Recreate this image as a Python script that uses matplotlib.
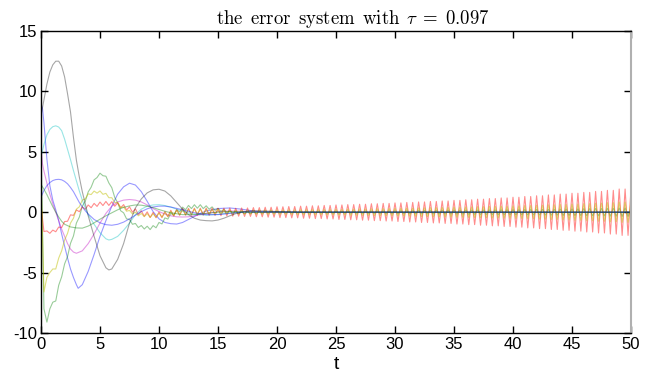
import numpy as np
import matplotlib
matplotlib.use("Agg")
import matplotlib.pyplot as plt

plt.rcParams['font.family'] = ['Liberation Sans', 'DejaVu Sans']
plt.rcParams['mathtext.fontset'] = 'cm'
plt.rcParams['axes.unicode_minus'] = False

# ---------------- data ----------------
# common sample grid for the oscillating series (step 0.25, t = 0..50)
t_fine = np.linspace(0, 50, 201)

# slow part of oscillating series, sampled at t = 0, 0.25, 0.5, ... (rest is 0)
red_slow = [0.5, -1.5, -1.65, -1.65, -1.6, -1.5, -1.35, -1.15, -0.9, -0.62, -0.35, -0.13,
            0.05, 0.18, 0.3, 0.38, 0.45, 0.52, 0.58, 0.63, 0.68, 0.71, 0.73, 0.72,
            0.7, 0.66, 0.6, 0.53, 0.45, 0.36, 0.27, 0.18, 0.08, 0.0, -0.08, -0.14,
            -0.19, -0.22, -0.24, -0.24, -0.23, -0.21, -0.18, -0.14, -0.1, -0.06, -0.03, 0.0,
            0.02, 0.03, 0.04, 0.04, 0.04, 0.04, 0.04, 0.04, 0.04, 0.03, 0.03, 0.03,
            0.02, 0.02, 0.02, 0.01, 0.01]
yellow_slow = [3.0, -6.6, -5.4, -5.0, -4.8, -4.6, -3.9, -3.1, -2.4, -1.65, -1.0, -0.4,
               0.15, 0.55, 0.9, 1.2, 1.42, 1.56, 1.65, 1.68, 1.66, 1.58, 1.46, 1.3,
               1.1, 0.9, 0.7, 0.5, 0.33, 0.18, 0.05, -0.05, -0.12, -0.18, -0.22, -0.25,
               -0.27, -0.28, -0.28, -0.27, -0.25, -0.23, -0.2, -0.16, -0.12, -0.08, -0.05, -0.02,
               0.0, 0.02, 0.04, 0.05, 0.06, 0.06, 0.06, 0.06, 0.06, 0.05, 0.05, 0.04,
               0.04, 0.03, 0.03, 0.02, 0.02]
green1_slow = [5.5, -8.0, -9.1, -8.0, -7.6, -7.2, -6.2, -5.2, -4.4, -3.55, -2.7, -1.85,
               -1.0, -0.3, 0.4, 1.0, 1.6, 2.15, 2.6, 2.95, 3.15, 3.1, 2.9, 2.5,
               1.95, 1.3, 0.7, 0.2, -0.15, -0.45, -0.7, -0.9, -1.05, -1.15, -1.22, -1.27,
               -1.3, -1.3, -1.25, -1.15, -1.0, -0.82, -0.62, -0.42, -0.25, -0.1, 0.05, 0.17,
               0.27, 0.35, 0.41, 0.45, 0.47, 0.48, 0.47, 0.45, 0.41, 0.37, 0.32, 0.27,
               0.22, 0.17, 0.12, 0.08, 0.04, 0.01, -0.02, -0.04, -0.05, -0.05, -0.05, -0.04,
               -0.04, -0.03, -0.02, -0.01]

# ripple amplitude (half peak-to-peak) for each unit of time, t = 0..49
red_amp = [0.1, 0.12, 0.13, 0.14, 0.15, 0.16, 0.17, 0.18, 0.2, 0.22,
           0.24, 0.26, 0.28, 0.29, 0.3, 0.31, 0.33, 0.35, 0.38, 0.41,
           0.45, 0.47, 0.5, 0.53, 0.56, 0.6, 0.63, 0.66, 0.7, 0.73,
           0.77, 0.81, 0.85, 0.89, 0.93, 0.98, 1.03, 1.08, 1.13, 1.18,
           1.24, 1.3, 1.36, 1.43, 1.5, 1.57, 1.64, 1.72, 1.81, 1.92]
yellow_amp = [0.0, 0.1, 0.1, 0.1, 0.1, 0.1, 0.1, 0.1, 0.12, 0.15,
              0.18, 0.2, 0.2, 0.2, 0.18, 0.17, 0.16, 0.16, 0.17, 0.18,
              0.19, 0.2, 0.21, 0.22, 0.23, 0.24, 0.26, 0.27, 0.29, 0.3,
              0.32, 0.34, 0.36, 0.38, 0.4, 0.42, 0.44, 0.46, 0.48, 0.5,
              0.52, 0.55, 0.58, 0.61, 0.64, 0.67, 0.71, 0.75, 0.79, 0.84]
green1_amp = [0.0, 0.15, 0.12, 0.1, 0.08, 0.08, 0.08, 0.1, 0.12, 0.14,
              0.15, 0.15, 0.15, 0.15, 0.12, 0.1, 0.08, 0.07, 0.06, 0.06,
              0.06, 0.06, 0.07, 0.07, 0.08, 0.08, 0.09, 0.1, 0.1, 0.11,
              0.12, 0.13, 0.14, 0.15, 0.16, 0.17, 0.18, 0.19, 0.2, 0.21,
              0.22, 0.23, 0.24, 0.25, 0.27, 0.28, 0.3, 0.31, 0.33, 0.35]

# smooth (non-oscillating) series: knot times and values
gray_t = [0, 0.25, 0.5, 0.75, 1, 1.25, 1.5, 1.75, 2, 2.25, 2.5, 2.75, 3, 3.25, 3.5, 3.75, 4,
          4.5, 5, 5.5, 5.75, 6, 6.5, 7, 7.5, 8, 8.5, 9, 9.5, 10, 10.5, 11, 11.5, 12, 12.5,
          13, 13.5, 14, 14.5, 15, 15.5, 16, 16.5, 17, 17.5, 18, 19, 20, 22, 50]
gray_y = [8.0, 9.3, 10.6, 11.6, 12.2, 12.5, 12.5, 12.1, 11.2, 9.8, 8.3, 6.2, 4.3, 2.9, 1.7, 0.7, -0.3,
          -2.0, -3.6, -4.6, -4.78, -4.7, -3.9, -2.6, -0.9, 0.35, 1.1, 1.6, 1.85, 1.9, 1.75, 1.35, 0.8, 0.25, -0.2,
          -0.5, -0.65, -0.7, -0.72, -0.65, -0.5, -0.3, -0.12, 0.0, 0.08, 0.12, 0.1, 0.05, 0, 0]

cyan_t = [0, 0.25, 0.5, 0.75, 1, 1.25, 1.5, 1.75, 2, 2.25, 2.5, 2.75, 3, 3.25, 3.5, 3.75, 4,
          4.5, 5, 5.5, 5.75, 6, 6.5, 7, 7.5, 8, 8.5, 9, 9.5, 10, 10.5, 11, 11.5, 12, 12.5,
          13, 14, 15, 16, 17, 19, 22, 50]
cyan_y = [4.6, 5.6, 6.4, 6.85, 7.08, 7.15, 7.05, 6.75, 6.05, 5.2, 4.35, 3.45, 2.6, 1.75, 1.0, 0.35, -0.2,
          -1.0, -1.7, -2.2, -2.3, -2.25, -2.0, -1.5, -0.9, -0.2, 0.25, 0.5, 0.6, 0.62, 0.55, 0.42, 0.25, 0.08, -0.06,
          -0.16, -0.25, -0.18, -0.06, 0.02, 0.03, 0, 0]

blue1_t = [0, 0.125, 0.25, 0.5, 0.75, 1, 1.25, 1.5, 1.75, 2, 2.25, 2.5, 2.75, 3, 3.15, 3.5, 4,
           4.5, 5, 5.5, 6, 6.5, 7, 7.5, 8, 8.5, 9, 9.5, 10, 10.5, 11, 11.5, 12, 12.5, 13,
           13.5, 14, 15, 16, 17, 18, 19, 22, 50]
blue1_y = [9.0, 8.6, 7.4, 4.4, 2.2, 1.0, 0.2, -0.7, -1.8, -2.8, -3.8, -4.7, -5.4, -6.0, -6.3, -6.0, -4.9,
           -3.5, -2.0, -0.7, 0.5, 1.5, 2.1, 2.4, 2.25, 1.7, 0.9, 0.05, -0.55, -0.85, -0.95, -0.98, -0.85, -0.6, -0.35,
           -0.1, 0.1, 0.3, 0.35, 0.25, 0.1, 0.0, 0, 0]

pink_t = [0, 0.125, 0.25, 0.5, 0.75, 1, 1.25, 1.5, 1.75, 2, 2.25, 2.5, 2.75, 3, 3.5, 4, 4.5,
          5, 5.5, 6, 6.5, 7, 7.5, 8, 8.5, 9, 9.5, 10, 10.5, 11, 11.5, 12, 12.5, 13, 14,
          15, 16, 17, 18, 19, 22, 50]
pink_y = [5.5, 4.0, 3.4, 2.4, 1.5, 0.7, 0.0, -0.7, -1.4, -2.0, -2.6, -3.05, -3.3, -3.4, -3.2, -2.6, -1.8,
          -0.9, -0.1, 0.5, 0.85, 1.0, 1.05, 1.0, 0.85, 0.6, 0.3, 0.05, -0.15, -0.3, -0.38, -0.4, -0.38, -0.3, -0.1,
          0.05, 0.1, 0.08, 0.03, 0, 0, 0]

blue2_t = [0, 0.25, 0.5, 0.75, 1, 1.25, 1.5, 1.75, 2, 2.25, 2.5, 2.75, 3, 3.25, 3.5, 3.75, 4,
           4.5, 5, 5.5, 6, 6.5, 7, 7.5, 8, 8.5, 9, 9.5, 10, 10.5, 11, 12, 13, 14, 15, 16,
           17, 19, 22, 50]
blue2_y = [1.25, 1.8, 2.2, 2.45, 2.62, 2.7, 2.72, 2.68, 2.55, 2.35, 2.05, 1.7, 1.25, 0.8, 0.45, 0.12, -0.15,
           -0.6, -0.88, -1.03, -1.08, -1.0, -0.82, -0.55, -0.25, 0.05, 0.28, 0.43, 0.5, 0.5, 0.43, 0.2, -0.05, -0.2, -0.2, -0.1,
           0.0, 0.02, 0, 0]

green2_t = [0, 0.25, 0.5, 0.75, 1, 1.25, 1.5, 1.75, 2, 2.5, 3, 3.5, 4, 4.5, 5, 5.5, 6, 6.5,
            7, 7.5, 8, 8.5, 9, 9.5, 10, 10.5, 11, 12, 13, 14, 15, 16, 18, 22, 50]
green2_y = [2.3, 1.9, 1.45, 0.95, 0.45, 0.0, -0.4, -0.75, -1.0, -1.22, -1.3, -1.32, -1.15, -0.88, -0.58, -0.3, -0.05, 0.2,
            0.4, 0.52, 0.6, 0.58, 0.5, 0.38, 0.22, 0.08, -0.05, -0.2, -0.2, -0.1, 0.0, 0.05, 0.0, 0, 0]

x_ticks = [0, 5, 10, 15, 20, 25, 30, 35, 40, 45, 50]
y_ticks = [-10, -5, 0, 5, 10, 15]
y_tick_labels = ['-10', '-5', '0', '5', '10', '15']
title_text = r'$\mathrm{the\ \,error\ \,system\ \,with}\ \,\tau\;=\;0.097$'
x_label = 't'


def oscillating(slow, amp):
    base = np.zeros(len(t_fine))
    base[:len(slow)] = slow
    unit = np.minimum(np.floor(t_fine).astype(int), len(amp) - 1)
    sign = np.where(np.arange(len(t_fine)) % 2 == 0, 1.0, -1.0)
    return base + sign * np.asarray(amp)[unit]


fig = plt.figure(figsize=(6.51, 3.79), dpi=100)
ax = fig.add_axes([41 / 651, 1 - 333 / 379, 590 / 651, 302 / 379])

A = 0.4
LW = 0.8
ax.plot(blue1_t, blue1_y, color='#0000ff', alpha=A, lw=LW)
ax.plot(t_fine, oscillating(green1_slow, green1_amp), color='#008000', alpha=A, lw=LW)
ax.plot(t_fine, oscillating(red_slow, red_amp), color='#ff0000', alpha=0.45, lw=LW)
ax.plot(cyan_t, cyan_y, color='#00bfbf', alpha=A, lw=LW)
ax.plot(pink_t, pink_y, color='#bf00bf', alpha=A, lw=LW)
ax.plot(t_fine, oscillating(yellow_slow, yellow_amp), color='#bfbf00', alpha=0.5, lw=LW)
ax.plot(gray_t, gray_y, color='#000000', alpha=0.35, lw=LW)
ax.plot(blue2_t, blue2_y, color='#0000ff', alpha=A, lw=LW)
ax.plot(green2_t, green2_y, color='#008000', alpha=A, lw=LW)

ax.set_xlim(0, 50)
ax.set_ylim(-10, 15)
ax.set_xticks(x_ticks)
ax.set_yticks(y_ticks)
ax.set_yticklabels(y_tick_labels)
ax.tick_params(direction='in', length=5, width=1, top=True, right=True,
               labelsize=12, pad=3, colors='black')
for s in ax.spines.values():
    s.set_linewidth(1.0)
ax.spines['right'].set_color('#b0b0b0')
ax.spines['right'].set_linewidth(1.5)

ax.set_title(title_text, fontsize=13.5, pad=5, x=0.528)
ax.set_xlabel(x_label, fontsize=14, labelpad=3)

fig.savefig('out.png', dpi=100)
